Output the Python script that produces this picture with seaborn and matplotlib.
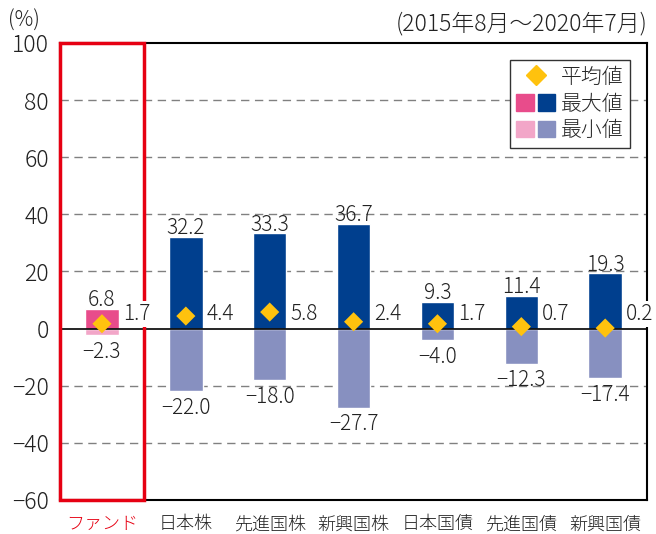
import numpy as np
import pandas as pd
import matplotlib.pyplot as plt
import seaborn as sns
from matplotlib.patches import Rectangle
from matplotlib.lines import Line2D
from matplotlib.legend_handler import HandlerTuple

# data
categories = ['ファンド', '日本株', '先進国株', '新興国株', '日本国債', '先進国債', '新興国債']
max_values = [6.8, 32.2, 33.3, 36.7, 9.3, 11.4, 19.3]
min_values = [-2.3, -22.0, -18.0, -27.7, -4.0, -12.3, -17.4]
mean_values = [1.7, 4.4, 5.8, 2.4, 1.7, 0.7, 0.2]

max_colors = ['#E84C8B'] + ['#003F8E'] * 6
min_colors = ['#F2A6C8'] + ['#8790C0'] * 6
mean_color = '#FFC20E'
txt = '#222222'

sns.set_style('white')
plt.rcParams['font.family'] = ['Noto Sans CJK JP', 'DejaVu Sans']
plt.rcParams['font.weight'] = 'light'

df = pd.DataFrame({'cat': categories, 'max': max_values, 'min': min_values, 'mean': mean_values})

fig = plt.figure(figsize=(6.56, 5.34), dpi=100)
ax = fig.add_axes([0.0915, 0.0637, 0.895, 0.8558])

sns.barplot(data=df, x='cat', y='max', hue='cat', palette=max_colors, legend=False,
            width=0.4, saturation=1, ax=ax, zorder=3)
sns.barplot(data=df, x='cat', y='min', hue='cat', palette=min_colors, legend=False,
            width=0.4, saturation=1, ax=ax, zorder=3)
sns.scatterplot(data=df, x='cat', y='mean', marker='D', color=mean_color, s=95,
                edgecolor='none', ax=ax, zorder=5)

ax.set_ylim(-60, 100)
ax.set_xlim(-0.5, len(categories) - 0.5)
ax.set_yticks(range(-60, 101, 20))
ax.set_xlabel('')
ax.set_ylabel('')

for y in range(-40, 100, 20):
    if y == 0:
        continue
    ax.axhline(y, color='#808080', lw=1, ls=(0, (6, 4)), zorder=1)
ax.axhline(0, color='black', lw=1.2, zorder=4)

for s in ax.spines.values():
    s.set_color('black')
    s.set_linewidth(1.5)

ax.tick_params(axis='y', labelsize=16.5, length=0, pad=8, colors=txt)
ax.tick_params(axis='x', labelsize=13, length=0, pad=11, colors=txt)
ax.get_xticklabels()[0].set_color('#E60012')

# value labels
for i, (mx, mn, mv) in enumerate(zip(max_values, min_values, mean_values)):
    ax.text(i, mx + 1.0, f'{mx:.1f}', ha='center', va='baseline', fontsize=15, color=txt)
    ax.text(i, mn - 2.0, f'{mn:.1f}'.replace('-', '\u2212'), ha='center', va='top',
            fontsize=15, color=txt)
    ax.text(i + 0.25, 5.0, f'{mv:.1f}', ha='left', va='center', fontsize=15, color=txt,
            zorder=8, bbox=dict(facecolor='white', edgecolor='none', pad=1.5))

# red frame around fund column
ax.add_patch(Rectangle((-0.5, -60), 1.0, 160, fill=False, edgecolor='#E60012', lw=2.5,
                       zorder=6, clip_on=False))

# legend
h_mean = Line2D([], [], marker='D', color=mean_color, ls='none', markersize=10)
h_max = (Rectangle((0, 0), 1, 1, color=max_colors[0]), Rectangle((0, 0), 1, 1, color=max_colors[1]))
h_min = (Rectangle((0, 0), 1, 1, color=min_colors[0]), Rectangle((0, 0), 1, 1, color=min_colors[1]))
leg = ax.legend([h_mean, h_max, h_min], ['平均値', '最大値', '最小値'],
                handler_map={tuple: HandlerTuple(ndivide=None, pad=0.2)},
                loc='upper right', bbox_to_anchor=(0.971, 0.963), borderaxespad=0,
                fontsize=15, frameon=True, fancybox=False, edgecolor='#333333',
                framealpha=1, handlelength=1.85, handleheight=0.85, handletextpad=0.3,
                labelspacing=0.22, borderpad=0.3)
leg.get_frame().set_linewidth(1)
leg.set_zorder(9)

fig.text(0.012, 0.962, '(%)', fontsize=15, ha='left', va='center', color=txt)
fig.text(0.987, 0.955, '(2015年8月〜2020年7月)', fontsize=16.5, ha='right', va='center',
         color=txt)

fig.savefig('out.png', dpi=100)
